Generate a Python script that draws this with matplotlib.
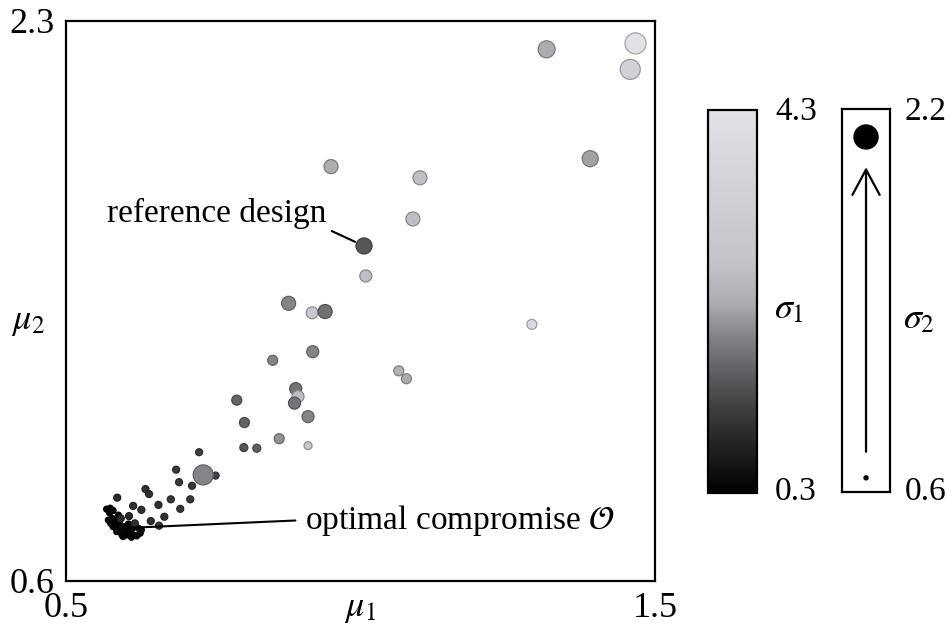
import numpy as np
import matplotlib
matplotlib.use("Agg")
import matplotlib.pyplot as plt
from matplotlib.colors import LinearSegmentedColormap, Normalize
from matplotlib.cm import ScalarMappable

plt.rcParams['font.family'] = ['Liberation Serif', 'DejaVu Serif']
plt.rcParams['mathtext.fontset'] = 'stix'

# ---- data: mu1, mu2, sigma1 (colour), sigma2 (size) ----
mu1 = [0.569, 0.575, 0.574, 0.580, 0.589, 0.578, 0.583, 0.576, 0.580, 0.586,
       0.592, 0.597, 0.603, 0.609, 0.614, 0.620, 0.626, 0.623, 0.617, 0.611,
       0.603, 0.595, 0.586, 0.583, 0.592, 0.600, 0.628, 0.606, 0.572, 0.597,
       0.611,
       0.587, 0.614, 0.628, 0.607, 0.593, 0.617, 0.644, 0.658, 0.667, 0.657,
       0.635, 0.641, 0.678, 0.694, 0.711, 0.692, 0.714, 0.687, 0.726, 0.754,
       0.802, 0.824, 0.733,
       0.878, 0.918, 0.940, 0.919, 0.851, 0.890, 0.894, 0.888, 0.911, 0.790,
       0.803, 0.862, 0.911,
       1.291, 1.065, 1.078,
       0.950, 1.101, 1.089, 1.006, 1.009, 1.316, 1.467, 1.458, 1.390]
mu2 = [0.818, 0.821, 0.807, 0.814, 0.800, 0.790, 0.787, 0.775, 0.765, 0.760,
       0.755, 0.750, 0.755, 0.745, 0.740, 0.737, 0.745, 0.760, 0.765, 0.755,
       0.740, 0.740, 0.750, 0.775, 0.770, 0.765, 0.755, 0.773, 0.785, 0.735,
       0.733,
       0.853, 0.828, 0.816, 0.797, 0.790, 0.775, 0.782, 0.768, 0.795, 0.831,
       0.879, 0.864, 0.848, 0.819, 0.848, 0.900, 0.889, 0.938, 0.991, 0.920,
       1.005, 1.003, 0.922,
       1.443, 1.414, 1.418, 1.296, 1.270, 1.184, 1.160, 1.140, 1.099, 1.149,
       1.081, 1.032, 1.011,
       1.379, 1.238, 1.214,
       1.858, 1.824, 1.699, 1.617, 1.526, 2.214, 2.232, 2.153, 1.882]
sigma1 = [0.35, 0.40, 0.35, 0.45, 0.50, 0.40, 0.35, 0.45, 0.40, 0.35,
          0.40, 0.45, 0.35, 0.40, 0.35, 0.45, 0.40, 0.50, 0.45, 0.40,
          0.35, 0.40, 0.45, 0.35, 0.40, 0.45, 0.50, 0.40, 0.45, 0.40,
          0.35,
          0.90, 1.00, 1.00, 0.90, 0.90, 1.00, 1.00, 1.10, 1.00, 1.00,
          1.00, 1.00, 1.10, 1.10, 1.10, 1.10, 1.10, 1.10, 1.20, 1.20,
          1.45, 1.55, 1.95,
          1.95, 2.90, 1.75, 1.95, 1.95, 1.78, 2.60, 1.78, 1.95, 1.62,
          1.62, 2.06, 2.90,
          3.90, 2.40, 2.30,
          2.30, 2.60, 2.60, 1.46, 2.60, 2.30, 4.30, 3.50, 2.20]
sigma2 = [0.76, 0.76, 0.76, 0.76, 0.76, 0.76, 0.76, 0.76, 0.76, 0.76,
          0.76, 0.76, 0.76, 0.76, 0.76, 0.76, 0.76, 0.76, 0.76, 0.76,
          0.76, 0.76, 0.76, 0.76, 0.76, 0.76, 0.76, 0.76, 0.76, 0.76,
          0.76,
          0.84, 0.84, 0.84, 0.84, 0.84, 0.84, 0.84, 0.84, 0.84, 0.84,
          0.84, 0.84, 0.84, 0.84, 0.84, 0.84, 0.84, 0.84, 0.84, 0.84,
          0.92, 0.92, 1.88,
          1.40, 1.24, 1.40, 1.24, 1.08, 1.24, 1.24, 1.24, 1.24, 1.08,
          1.08, 1.08, 0.92,
          1.08, 1.08, 1.08,
          1.40, 1.40, 1.40, 1.56, 1.24, 1.64, 1.96, 1.88, 1.56]

x_ticks = [0.5, 1.5]
y_ticks = [0.6, 2.3]
s1_range = [0.3, 4.3]
s2_range = [0.6, 2.2]

# ---- styling ----
cmap = LinearSegmentedColormap.from_list('gray_sig', [
    (0.0, '#000000'), (0.1, '#1c1c1e'), (0.2, '#38383b'), (0.3, '#5a5a5e'),
    (0.4, '#808084'), (0.5, '#acaeb2'), (0.6, '#c2c4ca'), (0.8, '#d0d2d8'),
    (1.0, '#e0e2e6')])
norm = Normalize(*s1_range)

def size_of(s2):
    r_px = 2 + (np.asarray(s2) - s2_range[0]) / (s2_range[1] - s2_range[0]) * 10
    return (1.44 * r_px) ** 2

fig = plt.figure(figsize=(9.52, 6.32), dpi=100)
ax = fig.add_axes([0.0693, 0.0807, 0.6187, 0.8861])

face = cmap(norm(np.array(sigma1)))
edge = face.copy()
edge[:, :3] = edge[:, :3] * 0.72
ax.scatter(mu1, mu2, s=size_of(sigma2), c=face, edgecolors=edge,
           linewidths=0.9, zorder=3)

ax.set_xlim(x_ticks)
ax.set_ylim(y_ticks)
ax.set_xticks(x_ticks)
ax.set_yticks(y_ticks)
ax.set_xticklabels([f'{v:.1f}' for v in x_ticks])
ax.set_yticklabels([f'{v:.1f}' for v in y_ticks])
ax.tick_params(length=0, labelsize=26, pad=8)
for sp in ax.spines.values():
    sp.set_linewidth(1.6)

ax.text(0.5, -0.05, r'$\mu_1$', transform=ax.transAxes, fontsize=26,
        ha='center', va='center')
ax.text(-0.065, 0.4625, r'$\mu_2$', transform=ax.transAxes, fontsize=26,
        ha='center', va='center')

ax.annotate('reference design', xy=(mu1[73], mu2[73]), xytext=(0.756, 1.717),
            fontsize=24, ha='center', va='center',
            arrowprops=dict(arrowstyle='-', lw=1.5, color='black',
                            relpos=(1.0, 0.0), shrinkA=2, shrinkB=7))
ax.annotate(r'optimal compromise $\mathcal{O}$', xy=(0.604, 0.761),
            xytext=(0.906, 0.785), fontsize=24, ha='left', va='center',
            arrowprops=dict(arrowstyle='-', lw=1.5, color='black',
                            relpos=(0.0, 0.5), shrinkA=5, shrinkB=0))

# ---- sigma1 colour bar ----
cax = fig.add_axes([0.7437, 0.2199, 0.0515, 0.606])
cb = fig.colorbar(ScalarMappable(norm=norm, cmap=cmap), cax=cax)
cb.set_ticks([])
cb.outline.set_linewidth(1.6)
fig.text(0.814, 0.823, f'{s1_range[1]:.1f}', fontsize=24, ha='left', va='center')
fig.text(0.814, 0.222, f'{s1_range[0]:.1f}', fontsize=24, ha='left', va='center')
fig.text(0.829, 0.5095, r'$\sigma_1$', fontsize=26, ha='center', va='center')

# ---- sigma2 size legend ----
lax = fig.add_axes([0.8845, 0.2215, 0.0504, 0.606])
lax.set_xlim(0, 1)
lax.set_ylim(0, 1)
lax.set_xticks([])
lax.set_yticks([])
for sp in lax.spines.values():
    sp.set_linewidth(1.6)
lax.scatter([0.5, 0.5], [0.927, 0.037], s=size_of(s2_range[::-1]), c='black')
lax.annotate('', xy=(0.5, 0.848), xytext=(0.5, 0.105),
             arrowprops=dict(arrowstyle='->,head_length=1.3,head_width=0.7',
                             mutation_scale=14, lw=1.6, color='black',
                             shrinkA=0, shrinkB=0))
fig.text(0.9506, 0.823, f'{s2_range[1]:.1f}', fontsize=24, ha='left', va='center')
fig.text(0.9506, 0.222, f'{s2_range[0]:.1f}', fontsize=24, ha='left', va='center')
fig.text(0.9653, 0.4937, r'$\sigma_2$', fontsize=26, ha='center', va='center')

fig.savefig('out.png', dpi=100)
